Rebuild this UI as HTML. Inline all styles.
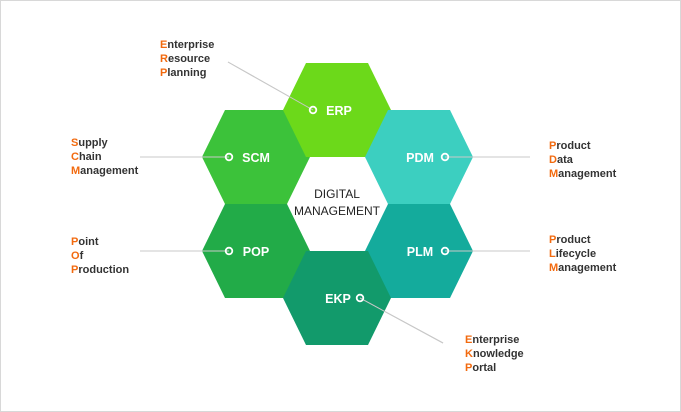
<!DOCTYPE html>
<html><head><style>
body{margin:0;background:#fff;}
.f{position:absolute;left:0;top:0;width:679px;height:410px;border:1px solid #d8d8d8;}
.l{position:absolute;font:bold 11px/14px "Liberation Sans",sans-serif;color:#333;}
.l b{color:#f26a0f;}
</style></head><body>
<div class="f"></div>
<svg width="681" height="412" style="position:absolute;left:0;top:0">
<defs><polygon id="h" points="-54,0 -31,-47 31,-47 54,0 31,47 -31,47"/></defs>
<g stroke="#c8c8c8" stroke-width="1">
<line x1="228" y1="62" x2="313" y2="110"/>
<line x1="140" y1="157" x2="229" y2="157"/>
<line x1="140" y1="251" x2="229" y2="251"/>
<line x1="445" y1="157" x2="530" y2="157"/>
<line x1="445" y1="251" x2="530" y2="251"/>
<line x1="360" y1="298" x2="443" y2="343"/>
</g>
<use href="#h" x="256" y="157" fill="#3cc23a"/>
<use href="#h" x="256" y="251" fill="#22ab48"/>
<use href="#h" x="337" y="110" fill="#6cd91a"/>
<use href="#h" x="419" y="157" fill="#3ccfc0"/>
<use href="#h" x="419" y="251" fill="#14ab9c"/>
<use href="#h" x="337" y="298" fill="#129a6b"/>
<g stroke="#c8c8c8"><line x1="228" y1="62" x2="313" y2="110"/><line x1="360" y1="298" x2="443" y2="343"/>
<line x1="200" y1="157" x2="229" y2="157"/><line x1="200" y1="251" x2="229" y2="251"/><line x1="445" y1="157" x2="475" y2="157"/><line x1="445" y1="251" x2="475" y2="251"/></g>
<g fill="none" stroke="#fff" stroke-width="1.8">
<circle cx="313" cy="110" r="3.3"/><circle cx="229" cy="157" r="3.3"/><circle cx="229" cy="251" r="3.3"/>
<circle cx="445" cy="157" r="3.3"/><circle cx="445" cy="251" r="3.3"/><circle cx="360" cy="298" r="3.3"/>
</g>
<g font-family="Liberation Sans,sans-serif" font-size="12.5" font-weight="bold" fill="#fff" text-anchor="middle">
<text x="339" y="115">ERP</text><text x="256" y="162">SCM</text><text x="256" y="256">POP</text>
<text x="420" y="162">PDM</text><text x="420" y="256">PLM</text><text x="338" y="303">EKP</text>
</g>
<g font-family="Liberation Sans,sans-serif" font-size="12" fill="#222" text-anchor="middle">
<text x="337" y="198">DIGITAL</text><text x="337" y="215">MANAGEMENT</text>
</g>
</svg>
<div class="l" style="left:160px;top:38px"><b>E</b>nterprise<br><b>R</b>esource<br><b>P</b>lanning</div>
<div class="l" style="left:71px;top:136px"><b>S</b>upply<br><b>C</b>hain<br><b>M</b>anagement</div>
<div class="l" style="left:71px;top:235px"><b>P</b>oint<br><b>O</b>f<br><b>P</b>roduction</div>
<div class="l" style="left:549px;top:139px"><b>P</b>roduct<br><b>D</b>ata<br><b>M</b>anagement</div>
<div class="l" style="left:549px;top:233px"><b>P</b>roduct<br><b>L</b>ifecycle<br><b>M</b>anagement</div>
<div class="l" style="left:465px;top:333px"><b>E</b>nterprise<br><b>K</b>nowledge<br><b>P</b>ortal</div>
</body></html>
